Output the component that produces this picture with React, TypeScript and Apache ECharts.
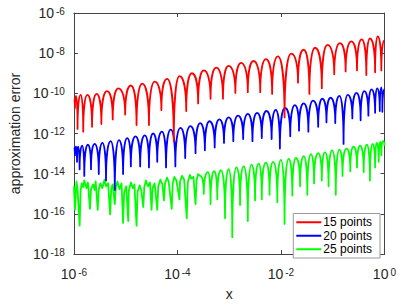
import React, { useEffect, useRef } from 'react';
import * as echarts from 'echarts';

// log10 of x and log10 of error
const redLogX = [-6, -5.98, -5.96, -5.93, -5.87, -5.82, -5.74, -5.65, -5.56, -5.47, -5.36, -5.25, -5.14, -5.01, -4.90, -4.79, -4.68, -4.55, -4.44, -4.31, -4.20, -4.07, -3.96, -3.83, -3.72, -3.60, -3.49, -3.36, -3.25, -3.12, -3.01, -2.88, -2.77, -2.64, -2.53, -2.40, -2.29, -2.17, -2.06, -1.93, -1.80, -1.67, -1.56, -1.45, -1.34, -1.21, -1.10, -0.97, -0.86, -0.75, -0.64, -0.53, -0.44, -0.35, -0.28, -0.18, -0.13, -0.06, 0];
const redLogY = [-10.27, -10.73, -10.13, -11.77, -10.08, -11.91, -10.08, -11.67, -10.03, -11.53, -9.89, -11.30, -9.75, -11.06, -9.61, -11.58, -9.52, -11.58, -9.42, -10.83, -9.28, -12.38, -9.14, -10.88, -9.0, -10.5, -8.86, -10.27, -8.72, -10.27, -8.63, -9.98, -8.48, -9.94, -8.39, -9.94, -8.30, -10.03, -8.16, -11.20, -8.02, -9.47, -7.83, -10.03, -7.73, -9.75, -7.59, -9.05, -7.5, -8.91, -7.41, -8.86, -7.31, -9.09, -7.27, -8.95, -7.17, -8.86, -7.36];

const blueLogX = [-6, -5.98, -5.96, -5.94, -5.92, -5.89, -5.84, -5.80, -5.73, -5.67, -5.60, -5.52, -5.45, -5.38, -5.29, -5.21, -5.13, -5.05, -4.97, -4.90, -4.81, -4.72, -4.63, -4.55, -4.47, -4.39, -4.30, -4.22, -4.13, -4.04, -3.94, -3.85, -3.75, -3.65, -3.56, -3.47, -3.38, -3.28, -3.19, -3.10, -3.01, -2.92, -2.83, -2.73, -2.64, -2.55, -2.46, -2.37, -2.28, -2.18, -2.10, -2.02, -1.92, -1.82, -1.73, -1.65, -1.56, -1.47, -1.38, -1.28, -1.20, -1.12, -1.04, -0.95, -0.87, -0.79, -0.71, -0.62, -0.54, -0.46, -0.39, -0.31, -0.25, -0.18, -0.14, -0.09, -0.06, -0.04, 0];
const blueLogY = [-12.70, -13.08, -12.66, -13.41, -12.66, -13.78, -12.61, -14.11, -12.56, -13.78, -12.52, -14.02, -12.47, -14.34, -12.38, -14.81, -12.33, -14.02, -12.23, -13.64, -12.14, -13.64, -12.09, -13.69, -12.0, -13.41, -11.91, -13.69, -11.81, -13.64, -11.72, -13.22, -11.63, -12.98, -11.48, -12.84, -11.39, -12.70, -11.30, -12.47, -11.20, -12.38, -11.11, -12.28, -11.02, -12.38, -10.97, -12.23, -10.88, -12.28, -10.83, -12.75, -10.73, -12.14, -10.59, -11.86, -10.5, -11.91, -10.36, -11.67, -10.27, -11.44, -10.22, -11.48, -10.13, -12.52, -10.08, -11.25, -9.98, -11.34, -9.89, -11.11, -9.80, -10.97, -9.75, -10.88, -9.70, -10.92, -9.80];

const greenNoiseLogX = [-6.00, -5.98, -5.96, -5.95, -5.93, -5.89, -5.87, -5.85, -5.82, -5.80, -5.76, -5.73, -5.69, -5.67, -5.63, -5.60, -5.58, -5.54, -5.52, -5.49, -5.45, -5.41, -5.38, -5.34, -5.30, -5.28, -5.25, -5.21, -5.19, -5.16, -5.12, -5.08, -5.05, -5.03, -4.99, -4.95, -4.94, -4.90, -4.86, -4.83, -4.79, -4.77, -4.73, -4.70, -4.66, -4.64, -4.61, -4.57, -4.53, -4.50, -4.48, -4.44, -4.39, -4.37, -4.33, -4.29, -4.26, -4.24, -4.20, -4.17, -4.11, -4.09, -4.06, -4.02, -3.96, -3.95, -3.91, -3.87, -3.82, -3.80, -3.76, -3.73, -3.69, -3.65, -3.63, -3.60, -3.56];
const greenNoiseLogY = [-14.63, -15.80, -14.72, -14.39, -14.77, -16.59, -14.86, -14.48, -14.67, -14.34, -14.72, -14.44, -15.75, -14.77, -14.53, -14.81, -14.39, -15.80, -14.81, -14.48, -14.72, -14.30, -14.63, -14.48, -16.03, -14.77, -14.53, -15.52, -14.67, -14.39, -14.77, -14.48, -16.45, -14.95, -14.63, -16.36, -14.86, -14.44, -14.72, -14.53, -16.59, -14.91, -14.58, -14.81, -15.66, -14.67, -14.34, -14.63, -14.44, -15.80, -14.72, -14.48, -15.80, -14.63, -14.30, -14.53, -15.33, -14.48, -14.20, -14.39, -15.75, -14.48, -14.16, -14.34, -15.28, -14.39, -14.11, -14.30, -16.22, -14.44, -14.06, -14.25, -14.16, -15.52, -14.34, -14.02, -14.11];
const greenArchLogX = [-3.49, -3.41, -3.36, -3.29, -3.23, -3.16, -3.08, -3.01, -2.94, -2.86, -2.79, -2.72, -2.64, -2.57, -2.50, -2.43, -2.37, -2.29, -2.22, -2.15, -2.07, -2.00, -1.93, -1.85, -1.78, -1.71, -1.63, -1.56, -1.49, -1.42, -1.36, -1.28, -1.21, -1.15, -1.08, -1.01, -0.94, -0.87, -0.81, -0.73, -0.66, -0.60, -0.53, -0.47, -0.40, -0.34, -0.28, -0.23, -0.18, -0.15, -0.11, -0.08, -0.06, -0.03, 0];
const greenArchLogY = [-15.00, -13.92, -15.52, -13.88, -15.28, -13.83, -16.22, -13.78, -17.16, -13.69, -15.56, -13.64, -16.36, -13.55, -15.33, -13.50, -15.28, -13.45, -15.05, -13.41, -15.42, -13.31, -16.50, -13.27, -15.09, -13.22, -14.63, -13.13, -15.05, -13.03, -14.48, -12.98, -14.34, -12.94, -14.63, -12.84, -15.05, -12.80, -14.11, -12.75, -13.88, -12.66, -13.69, -12.61, -13.92, -12.56, -14.34, -12.52, -13.69, -12.47, -13.41, -12.42, -13.08, -12.38, -12.61];

const seriesNames = ['15 points', '20 points', '25 points'];
const seriesColors = ['#ff0000', '#0000ff', '#00ff00'];

const FONT = '"Liberation Sans", Arial, Helvetica, sans-serif';

type Curve = { lx: number[]; ly: number[]; archFrom: number };
const curves: Curve[] = [
  { lx: redLogX, ly: redLogY, archFrom: 0 },
  { lx: blueLogX, ly: blueLogY, archFrom: 0 },
  {
    lx: [...greenNoiseLogX, ...greenArchLogX],
    ly: [...greenNoiseLogY, ...greenArchLogY],
    archFrom: greenNoiseLogX.length - 1,
  },
];

// path through the points mapped by the chart's axes; arches get a flat top and a steep cusp at the dips
function buildPath(api: any, c: Curve): string {
  const n = Math.min(c.lx.length, c.ly.length);
  const pts: number[][] = [];
  for (let i = 0; i < n; i++) pts.push(api.coord([Math.pow(10, c.lx[i]), Math.pow(10, c.ly[i])]));
  const f = (v: number) => v.toFixed(2);
  let d = `M${f(pts[0][0])},${f(pts[0][1])}`;
  const k = 0.6;
  for (let i = 1; i < n; i++) {
    const [ax, ay] = pts[i - 1];
    const [bx, by] = pts[i];
    if (i - 1 < c.archFrom) {
      d += ` L${f(bx)},${f(by)}`;
    } else if (by < ay) {
      d += ` C${f(ax)},${f(ay - k * (ay - by))} ${f(bx - k * (bx - ax))},${f(by)} ${f(bx)},${f(by)}`;
    } else {
      d += ` C${f(ax + k * (bx - ax))},${f(ay)} ${f(bx)},${f(by - k * (by - ay))} ${f(bx)},${f(by)}`;
    }
  }
  return d;
}

const powLabel = (v: number) => {
  const e = Math.round(Math.log10(v));
  return `{b|10}{s|${e}}`;
};

const richLabel = {
  b: { fontSize: 14, lineHeight: 14, fontFamily: FONT, color: '#262626', verticalAlign: 'bottom', padding: [6, 0, 0, 0] },
  s: { fontSize: 10, lineHeight: 10, fontFamily: FONT, color: '#262626', verticalAlign: 'top', padding: [0, 0, 0, 2] },
};

export default function App() {
  const ref = useRef<HTMLDivElement>(null);
  useEffect(() => {
    if (!ref.current) return;
    const chart = echarts.init(ref.current, undefined, { renderer: 'svg' });
    const axisLine = { show: true, lineStyle: { color: '#444', width: 1 } };
    const tick = { show: true, inside: true, length: 4, lineStyle: { color: '#444', width: 1 } };
    const legendSeries = seriesNames.map((name, i) => ({
      name,
      type: 'line',
      data: [],
      symbol: 'none',
      lineStyle: { color: seriesColors[i], width: 1.8 },
      itemStyle: { color: seriesColors[i] },
    }));
    const curveSeries = curves.map((c, i) => ({
      type: 'custom',
      xAxisIndex: 0,
      yAxisIndex: 0,
      data: [[1e-3, 1e-12]],
      z: 5 - i,
      silent: true,
      renderItem: (_params: any, api: any) => ({
        type: 'path',
        shape: { pathData: buildPath(api, c) },
        style: { fill: 'none', stroke: seriesColors[i], lineWidth: 1.8, lineJoin: 'round' },
      }),
    }));
    chart.setOption({
      animation: false,
      backgroundColor: '#fff',
      grid: { left: 60, right: 12, top: 9, bottom: 41, containLabel: false },
      xAxis: [
        {
          type: 'log', logBase: 10, min: 1e-6, max: 1, interval: 2,
          position: 'bottom',
          name: 'x', nameLocation: 'middle', nameGap: 33,
          nameTextStyle: { fontSize: 14, fontFamily: FONT, color: '#262626' },
          axisLine, axisTick: tick, splitLine: { show: false }, minorTick: { show: false },
          axisLabel: { formatter: powLabel, rich: richLabel, margin: 13, hideOverlap: false },
        },
        {
          type: 'log', logBase: 10, min: 1e-6, max: 1, interval: 2, position: 'top',
          axisLine, axisTick: tick, splitLine: { show: false }, axisLabel: { show: false },
        },
      ],
      yAxis: [
        {
          type: 'log', logBase: 10, min: 1e-18, max: 1e-6, interval: 2,
          position: 'left',
          name: 'approximation error', nameLocation: 'middle', nameGap: 37,
          nameTextStyle: { fontSize: 14, fontFamily: FONT, color: '#262626' },
          axisLine, axisTick: tick, splitLine: { show: false }, minorTick: { show: false },
          axisLabel: { formatter: powLabel, rich: richLabel, margin: 9, hideOverlap: false },
        },
        {
          type: 'log', logBase: 10, min: 1e-18, max: 1e-6, interval: 2, position: 'right',
          axisLine, axisTick: tick, splitLine: { show: false }, axisLabel: { show: false },
        },
      ],
      legend: {
        data: seriesNames,
        orient: 'vertical',
        right: 19,
        bottom: 48,
        backgroundColor: '#fff',
        borderColor: '#999',
        borderWidth: 1,
        borderRadius: 0,
        padding: [2, 8, 2, 3],
        icon: 'rect',
        itemWidth: 25,
        itemHeight: 2,
        itemGap: 0,
        textStyle: { fontSize: 12, lineHeight: 13.5, fontFamily: FONT, color: '#000', padding: [0, 0, 0, -3] },
      },
      series: [...legendSeries, ...curveSeries],
    });
    return () => chart.dispose();
  }, []);
  return <div ref={ref} style={{ position: 'absolute', left: 0, top: 0, width: 399, height: 306 }} />;
}
